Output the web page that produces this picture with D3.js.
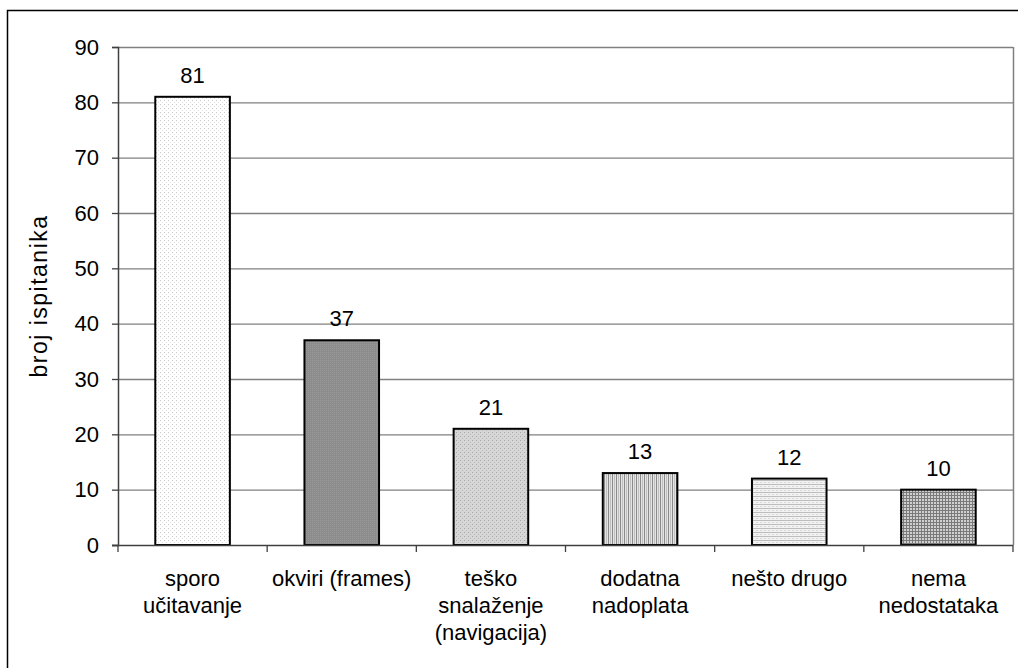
<!DOCTYPE html>
<html><head><meta charset="utf-8">
<script src="https://cdn.jsdelivr.net/npm/d3@7/dist/d3.min.js"></script>
<style>body{margin:0;background:#fff;}svg{display:block;}text{font-family:"Liberation Sans",Arial,sans-serif;}</style>
</head><body>
<script>
const categories = [["sporo","učitavanje"],["okviri (frames)"],["teško","snalaženje","(navigacija)"],["dodatna","nadoplata"],["nešto drugo"],["nema","nedostataka"]];
const values = [81,37,21,13,12,10];
const yTicks = [0,10,20,30,40,50,60,70,80,90];
const yTitle = "broj ispitanika";

const W=1018,H=668;
const svg=d3.select("body").append("svg").attr("width",W).attr("height",H);
const defs=svg.append("defs");
function pat(id,w,h,bg,draw){const p=defs.append("pattern").attr("id",id).attr("patternUnits","userSpaceOnUse").attr("width",w).attr("height",h);
 p.append("rect").attr("width",w).attr("height",h).attr("fill",bg);draw(p);}
pat("p0",4,4,"#ffffff",p=>{p.append("rect").attr("x",0).attr("y",0).attr("width",1).attr("height",1).attr("fill","#c8c8c8");p.append("rect").attr("x",2).attr("y",2).attr("width",1).attr("height",1).attr("fill","#e0e0e0");});
pat("p1",2,2,"#8c8c8c",p=>{p.append("rect").attr("width",1).attr("height",1).attr("fill","#9a9a9a");});
pat("p2",4,4,"#d6d6d6",p=>{p.append("rect").attr("x",0).attr("y",0).attr("width",1).attr("height",1).attr("fill","#a8a8a8");p.append("rect").attr("x",2).attr("y",2).attr("width",1).attr("height",1).attr("fill","#b8b8b8");});
pat("p3",4,4,"#e4e4e4",p=>{p.append("rect").attr("x",0).attr("width",1).attr("height",4).attr("fill","#8a8a8a");p.append("rect").attr("x",2).attr("width",1).attr("height",4).attr("fill","#c0c0c0");});
pat("p4",4,4,"#f2f2f2",p=>{p.append("rect").attr("y",0).attr("width",4).attr("height",1).attr("fill","#bdbdbd");p.append("rect").attr("y",2).attr("width",2).attr("height",1).attr("fill","#d8d8d8");});
pat("p5",3,3,"#d0d0d0",p=>{p.append("rect").attr("x",0).attr("width",1).attr("height",3).attr("fill","#7a7a7a");p.append("rect").attr("y",0).attr("width",3).attr("height",1).attr("fill","#7a7a7a");});

svg.append("rect").attr("x",7.5).attr("y",10.5).attr("width",1030).attr("height",700).attr("fill","none").attr("stroke","#000").attr("stroke-width",1.5);

const L=118,R=1013,T=47,B=545;
const FS=22;
const x=d3.scaleBand().domain(d3.range(categories.length)).range([L,R]).paddingInner(0.5).paddingOuter(0.25);
const y=d3.scaleLinear().domain([0,90]).range([B,T]);

// gridlines
svg.append("g").selectAll("line").data(yTicks.filter(d=>d>0)).join("line")
 .attr("x1",L).attr("x2",R).attr("y1",d=>y(d)+0.5).attr("y2",d=>y(d)+0.5).attr("stroke","#808080").attr("stroke-width",1.3);
svg.append("line").attr("x1",R+0.5).attr("x2",R+0.5).attr("y1",T).attr("y2",B).attr("stroke","#808080").attr("stroke-width",1.5);

// bars
svg.append("g").selectAll("rect").data(values).join("rect")
 .attr("x",(d,i)=>x(i)).attr("width",x.bandwidth()).attr("y",d=>y(d)).attr("height",d=>B-y(d))
 .attr("fill",(d,i)=>`url(#p${i})`).attr("stroke","#000").attr("stroke-width",2);

// value labels
svg.append("g").selectAll("text").data(values).join("text")
 .attr("x",(d,i)=>x(i)+x.bandwidth()/2).attr("y",d=>y(d)-14).attr("text-anchor","middle")
 .attr("font-size",FS).attr("fill","#000").text(d=>d);

// y axis
const ya=svg.append("g").attr("transform",`translate(${L},0)`).call(d3.axisLeft(y).tickValues(yTicks).tickSize(6).tickPadding(13));
ya.select(".domain").attr("stroke","#404040").attr("stroke-width",1.5);
ya.selectAll(".tick line").attr("stroke","#404040").attr("stroke-width",1.3);
ya.selectAll(".tick text").attr("font-size",FS).attr("fill","#000").attr("font-family","Liberation Sans,Arial,sans-serif");

// x axis
const xs=d3.scaleLinear().domain([0,categories.length]).range([L,R]);
svg.append("line").attr("x1",L-6).attr("x2",R).attr("y1",B+0.5).attr("y2",B+0.5).attr("stroke","#404040").attr("stroke-width",1.5);
svg.append("g").selectAll("line").data(d3.range(categories.length+1)).join("line")
 .attr("x1",d=>xs(d)).attr("x2",d=>xs(d)).attr("y1",B).attr("y2",B+7).attr("stroke","#404040").attr("stroke-width",1.3);

// category labels
const cl=svg.append("g").selectAll("text").data(categories).join("text")
 .attr("text-anchor","middle").attr("font-size",FS).attr("fill","#000");
cl.each(function(lines,i){const t=d3.select(this);lines.forEach((s,j)=>t.append("tspan").attr("x",x(i)+x.bandwidth()/2).attr("y",586+j*27).text(s));});

// y title
svg.append("text").attr("transform",`translate(47,${(T+B)/2}) rotate(-90)`).attr("text-anchor","middle").attr("font-size",23).attr("letter-spacing",1.5).attr("fill","#000").text(yTitle);
</script>
</body></html>
